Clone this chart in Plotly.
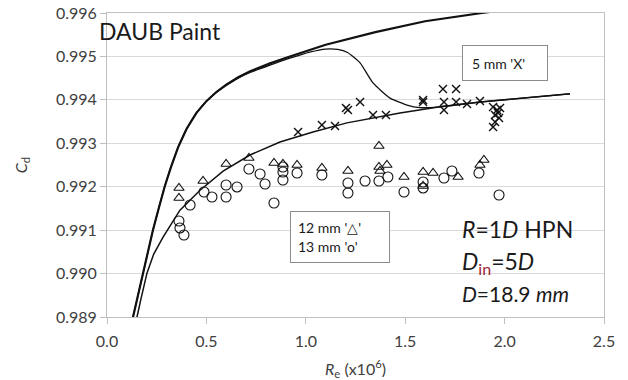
import plotly.graph_objects as go

# Discharge coefficient vs Reynolds number, DAUB paint, HPN nozzle
# Model curves
curve_a_re = [0.118, 0.131, 0.156, 0.181, 0.206, 0.231, 0.260, 0.290, 0.320, 0.357,
              0.400, 0.450, 0.500, 0.550, 0.600, 0.660, 0.720, 0.820, 0.920, 1.100,
              1.350, 1.600, 1.886, 2.000]
curve_a_cd = [0.98860, 0.98900, 0.98950, 0.99000, 0.99050, 0.99100, 0.99150, 0.99200,
              0.99243, 0.99290, 0.99333, 0.99370, 0.99397, 0.99418, 0.99435, 0.99452,
              0.99466, 0.99484, 0.99500, 0.99527, 0.99556, 0.99581, 0.99600, 0.99607]

curve_b_re = [0.118, 0.131, 0.156, 0.181, 0.206, 0.231, 0.260, 0.290, 0.320, 0.357,
              0.400, 0.450, 0.500, 0.550, 0.600, 0.660, 0.720, 0.820, 0.920, 1.020,
              1.100, 1.160, 1.210, 1.273, 1.338, 1.424, 1.509, 1.574, 1.675, 1.876, 2.329]
curve_b_cd = [0.98860, 0.98900, 0.98950, 0.99000, 0.99050, 0.99100, 0.99150, 0.99200,
              0.99243, 0.99290, 0.99333, 0.99370, 0.99397, 0.99417, 0.99433, 0.99450,
              0.99463, 0.99480, 0.99496, 0.99510, 0.99517, 0.99516, 0.99509, 0.99485,
              0.99439, 0.99404, 0.99388, 0.99382, 0.99384, 0.99395, 0.99414]

curve_c_re = [0.140, 0.151, 0.170, 0.201, 0.235, 0.282, 0.367, 0.468, 0.584, 0.719,
              0.870, 1.036, 1.207, 1.373, 1.474, 1.675, 1.876, 2.329]
curve_c_cd = [0.98860, 0.98900, 0.98940, 0.99001, 0.99045, 0.99084, 0.99146, 0.99192,
              0.99236, 0.99273, 0.99303, 0.99326, 0.99347, 0.99361, 0.99370, 0.99384,
              0.99395, 0.99414]

# 12 mm roughness (triangles)
tri_re = [0.362, 0.362, 0.483, 0.599, 0.714, 0.840, 0.885, 0.956, 1.081, 1.212,
          1.368, 1.368, 1.373, 1.408, 1.494, 1.590, 1.590, 1.640, 1.766, 1.876, 1.896]
tri_cd = [0.991971, 0.991740, 0.992132, 0.992523, 0.992661, 0.992546, 0.992523, 0.992500,
          0.992431, 0.992362, 0.992938, 0.992454, 0.992362, 0.992500, 0.992224, 0.992339,
          0.992017, 0.992316, 0.992224, 0.992500, 0.992615]

# 13 mm roughness (circles)
circ_re = [0.362, 0.367, 0.387, 0.418, 0.488, 0.528, 0.599, 0.599, 0.654, 0.714,
           0.770, 0.795, 0.840, 0.885, 0.885, 0.885, 0.956, 1.081, 1.212, 1.212,
           1.298, 1.368, 1.413, 1.494, 1.590, 1.590, 1.695, 1.735, 1.871, 1.972]
circ_cd = [0.991211, 0.991050, 0.990888, 0.991579, 0.991878, 0.991763, 0.992040, 0.991763,
           0.991994, 0.992408, 0.992293, 0.992063, 0.991625, 0.992454, 0.992339, 0.992155,
           0.992316, 0.992270, 0.992086, 0.991855, 0.992132, 0.992132, 0.992224, 0.991878,
           0.992109, 0.991971, 0.992201, 0.992362, 0.992316, 0.991809]

# 5 mm roughness (crosses)
x_re = [0.961, 1.081, 1.147, 1.212, 1.202, 1.273, 1.338, 1.403, 1.590, 1.590,
        1.690, 1.756, 1.695, 1.695, 1.756, 1.811, 1.876, 1.942, 1.962, 1.952,
        1.967, 1.952, 1.942, 1.977, 1.972]
x_cd = [0.993260, 0.993421, 0.993398, 0.993767, 0.993813, 0.993951, 0.993651, 0.993651,
        0.993997, 0.993950, 0.994250, 0.994250, 0.993951, 0.993767, 0.993951, 0.993905,
        0.993974, 0.993836, 0.993767, 0.993651, 0.993697, 0.993490, 0.993375, 0.993813,
        0.993582]

x_ticks = [0.0, 0.5, 1.0, 1.5, 2.0, 2.5]
y_ticks = [0.989, 0.990, 0.991, 0.992, 0.993, 0.994, 0.995, 0.996]

FONT = "Lato"
INK = "#1a1a1a"
LABEL = "#404040"

fig = go.Figure()

fig.add_trace(go.Scatter(x=curve_a_re, y=curve_a_cd, mode="lines",
                         line=dict(color="#111", width=2.2)))
fig.add_trace(go.Scatter(x=curve_b_re, y=curve_b_cd, mode="lines",
                         line=dict(color="#111", width=1.3, shape="spline", smoothing=0.5)))
fig.add_trace(go.Scatter(x=curve_c_re, y=curve_c_cd, mode="lines",
                         line=dict(color="#111", width=1.5)))

fig.add_trace(go.Scatter(x=tri_re, y=tri_cd, mode="markers",
                         marker=dict(symbol="triangle-up-open", size=9, color="#111",
                                     line=dict(width=1.1))))
fig.add_trace(go.Scatter(x=circ_re, y=circ_cd, mode="markers",
                         marker=dict(symbol="circle-open", size=10, color="#111",
                                     line=dict(width=1.1))))
fig.add_trace(go.Scatter(x=x_re, y=x_cd, mode="markers",
                         marker=dict(symbol="x-thin-open", size=8, color="#111",
                                     line=dict(width=1.4))))

fig.update_layout(
    width=628, height=380,
    margin=dict(l=107, r=24, t=13, b=63, autoexpand=False),
    paper_bgcolor="white", plot_bgcolor="white",
    showlegend=False,
    font=dict(family=FONT, color=LABEL, size=16),
    xaxis=dict(range=[0, 2.5], tickvals=x_ticks, tickformat=".1f",
               showgrid=False, zeroline=False, automargin=False,
               showline=True, linecolor="#bfbfbf", linewidth=1, mirror=True,
               ticks="outside", ticklen=6, tickcolor="#bfbfbf",
               ticklabelstandoff=4,
               tickfont=dict(size=16, family=FONT, color=LABEL),
               title=dict(text="<i>R</i><sub>e</sub> (x10<sup>6</sup>)",
                          font=dict(size=16, family=FONT, color=LABEL), standoff=19)),
    yaxis=dict(range=[0.989, 0.996], tickvals=y_ticks, tickformat=".3f",
               showgrid=True, gridcolor="#d9d9d9", gridwidth=1, zeroline=False,
               automargin=False,
               showline=True, linecolor="#bfbfbf", linewidth=1, mirror=True,
               ticks="outside", ticklen=6, tickcolor="#bfbfbf",
               tickfont=dict(size=16, family=FONT, color=LABEL),
               title=dict(text="<i>C</i><sub>d</sub>",
                          font=dict(size=16, family=FONT, color=LABEL), standoff=24)),
)

annotations = [
    dict(x=97, y=31, text="DAUB Paint", font=dict(size=23, color=INK),
         xanchor="left", yanchor="middle"),
    dict(x=505, y=63.5, text="5 mm 'X'", font=dict(size=14, color=INK),
         bordercolor="#8c8c8c", borderwidth=1, bgcolor="white", borderpad=9,
         width=66, height=16, align="left",
         xanchor="center", yanchor="middle"),
    dict(x=340, y=237, text="12 mm '△'<br>13 mm 'o'", font=dict(size=14, color=INK),
         bordercolor="#8c8c8c", borderwidth=1, bgcolor="white", borderpad=7,
         width=84, height=36, align="left",
         xanchor="center", yanchor="middle"),
    dict(x=460, y=229, text="<i>R</i>=1<i>D</i> HPN", font=dict(size=23, color=INK),
         xanchor="left", yanchor="middle"),
    dict(x=460, y=262, text="<i>D</i><sub><span style='color:#9b2335'>in</span></sub>=5<i>D</i>",
         font=dict(size=23, color=INK), xanchor="left", yanchor="middle"),
    dict(x=460, y=293, text="<i>D</i>=18.9 <i>mm</i>", font=dict(size=21, color=INK),
         xanchor="left", yanchor="middle"),
]
for a in annotations:
    # positions given in page pixels, converted to paper fractions
    a["x"] = (a["x"] - 107) / (604 - 107)
    a["y"] = (317 - a["y"]) / (317 - 13)
    a["xref"] = "paper"
    a["yref"] = "paper"
    a["showarrow"] = False
fig.update_layout(annotations=annotations)

fig.write_html("out.html")
